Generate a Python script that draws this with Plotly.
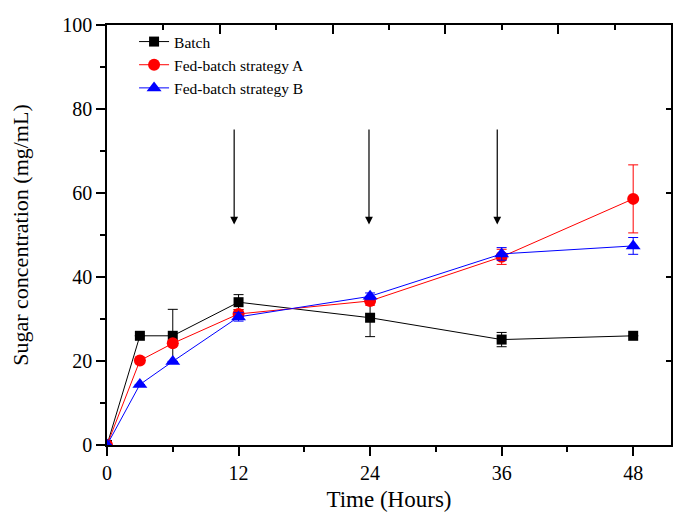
import plotly.graph_objects as go

time_h = [0, 3, 6, 12, 24, 36, 48]
batch = [0, 26.0, 26.0, 34.0, 30.3, 25.1, 26.0]
batch_err = [0, 0, 6.3, 1.8, 4.5, 1.7, 0]
fed_a = [0, 20.1, 24.2, 31.2, 34.3, 44.8, 58.6]
fed_a_err = [0, 0, 0, 1.0, 1.0, 1.8, 8.1]
fed_b = [0, 14.4, 19.9, 30.5, 35.4, 45.5, 47.4]
fed_b_err = [0, 0, 0, 1.0, 0.8, 1.5, 2.0]
feed_times = [11.6, 23.9, 35.6]
arrow_top = 75.5
arrow_tip = 52.5

x_ticks = [0, 12, 24, 36, 48]
y_ticks = [0, 20, 40, 60, 80, 100]

FONT = "Liberation Serif"

fig = go.Figure()

def add_series(name, y, err, color, symbol, size):
    fig.add_trace(go.Scatter(
        x=time_h, y=y, name=name, mode="lines+markers",
        line=dict(color=color, width=1),
        marker=dict(symbol=symbol, size=size, color=color),
        error_y=dict(type="data", array=err, visible=True, color=color,
                     thickness=1, width=5),
    ))

add_series("Batch", batch, batch_err, "black", "square", 10)
add_series("Fed-batch strategy A", fed_a, fed_a_err, "red", "circle", 12)
add_series("Fed-batch strategy B", fed_b, fed_b_err, "blue", "triangle-up", 13)

# empty trace so that the top/right frame axes are drawn
fig.add_trace(go.Scatter(x=[], y=[], xaxis="x2", yaxis="y2", showlegend=False,
                         hoverinfo="skip"))

for t in feed_times:
    fig.add_annotation(x=t, y=arrow_tip, ax=t, ay=arrow_top, axref="x", ayref="y",
                       xref="x", yref="y", text="", showarrow=True,
                       arrowhead=2, arrowsize=1.3, arrowwidth=1.2, arrowcolor="black",
                       standoff=0, startstandoff=0)

axis_common = dict(showline=True, linecolor="black", linewidth=1.5, showgrid=False,
                   zeroline=False, mirror=False, automargin=False)

fig.update_layout(
    width=673, height=516,
    margin=dict(l=107, r=2, t=25, b=71),
    paper_bgcolor="white", plot_bgcolor="white",
    font=dict(family=FONT, color="black"),
    showlegend=True,
    legend=dict(x=0.048, y=1.0, xanchor="left", yanchor="top",
                bgcolor="rgba(0,0,0,0)", font=dict(family=FONT, size=15.5),
                tracegroupgap=0, itemwidth=30),
    xaxis=dict(range=[0, 51.45], tickvals=x_ticks, ticks="outside", ticklen=9,
               tickwidth=1.5, tickcolor="black",
               minor=dict(dtick=6, tick0=0, ticks="outside", ticklen=5, tickwidth=1.5,
                          tickcolor="black"),
               tickfont=dict(family=FONT, size=20),
               title=dict(text="Time (Hours)", font=dict(family=FONT, size=23), standoff=8),
               **axis_common),
    yaxis=dict(range=[0, 100], tickvals=y_ticks, ticks="outside", ticklen=9,
               tickwidth=1.5, tickcolor="black",
               minor=dict(dtick=10, tick0=0, ticks="outside", ticklen=5, tickwidth=1.5,
                          tickcolor="black"),
               tickfont=dict(family=FONT, size=20),
               title=dict(text="Sugar concentration (mg/mL)", font=dict(family=FONT, size=22),
                          standoff=28),
               **axis_common),
    xaxis2=dict(overlaying="x", side="top", anchor="y2", range=[0, 10],
                tickvals=[2, 4, 6, 8], ticks="inside", ticklen=9, tickwidth=1.5,
                tickcolor="black", showticklabels=False,
                minor=dict(tickvals=[1, 3, 5, 7, 9], ticks="inside", ticklen=5,
                           tickwidth=1.5, tickcolor="black"),
                **axis_common),
    yaxis2=dict(overlaying="y", side="right", anchor="x2", range=[0, 100],
                tickvals=[20, 40, 60, 80], ticks="inside", ticklen=5, tickwidth=1.5,
                tickcolor="black", showticklabels=False,
                **axis_common),
)

fig.write_html("out.html", config={"displayModeBar": False},
               post_script="document.body.style.margin='0';document.body.style.padding='0';")
